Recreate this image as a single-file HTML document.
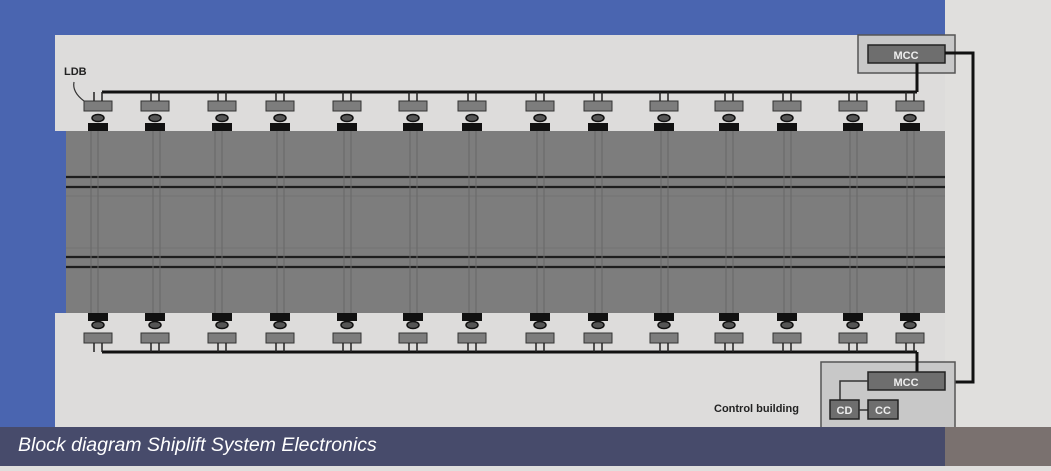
<!DOCTYPE html>
<html><head><meta charset="utf-8"><style>
html,body{margin:0;padding:0;}
body{width:1051px;height:466px;overflow:hidden;background:#e0dfdd;font-family:"Liberation Sans",sans-serif;}
</style></head><body>
<svg width="1051" height="466" viewBox="0 0 1051 466" xmlns="http://www.w3.org/2000/svg">
<defs>
 <g id="jt">
  <rect x="-14" y="101" width="28" height="10" fill="#7d7d7d" stroke="#333" stroke-width="1"/>
  <line x1="-4" y1="92" x2="-4" y2="101" stroke="#222" stroke-width="1.5"/>
  <line x1="4" y1="92" x2="4" y2="101" stroke="#222" stroke-width="1.5"/>
  <ellipse cx="0" cy="118" rx="6" ry="3.5" fill="#555" stroke="#111" stroke-width="1.5"/>
  <rect x="-10" y="123" width="20" height="8" fill="#111"/>
 </g>
 <g id="jb">
  <rect x="-10" y="313" width="20" height="8" fill="#111"/>
  <ellipse cx="0" cy="325" rx="6" ry="3.5" fill="#555" stroke="#111" stroke-width="1.5"/>
  <rect x="-14" y="333" width="28" height="10" fill="#7d7d7d" stroke="#333" stroke-width="1"/>
  <line x1="-4" y1="343" x2="-4" y2="352" stroke="#222" stroke-width="1.5"/>
  <line x1="4" y1="343" x2="4" y2="352" stroke="#222" stroke-width="1.5"/>
 </g>
 <g id="col">
  <line x1="-7" y1="131" x2="-7" y2="313" stroke="#686868" stroke-width="1"/>
  <line x1="0" y1="131" x2="0" y2="313" stroke="#686868" stroke-width="1"/>
 </g>
</defs>
<rect x="0" y="0" width="945" height="427" fill="#4a65b0"/>
<rect x="945" y="0" width="106" height="427" fill="#e0dfdd"/>
<rect x="55" y="35" width="890" height="392" fill="#dddcdb"/>
<rect x="55" y="131" width="11" height="182" fill="#4a65b0"/>
<rect x="66" y="131" width="879" height="182" fill="#7d7d7d"/>
<g stroke="#737373" stroke-width="1">
 <line x1="66" y1="196" x2="945" y2="196"/><line x1="66" y1="248" x2="945" y2="248"/>
</g>
<g stroke="#1e1e1e" stroke-width="2.2">
 <line x1="66" y1="177" x2="945" y2="177"/><line x1="66" y1="187" x2="945" y2="187"/>
 <line x1="66" y1="257" x2="945" y2="257"/><line x1="66" y1="267" x2="945" y2="267"/>
</g>
<g>
 <use href="#col" x="98"/><use href="#col" x="160"/><use href="#col" x="222"/><use href="#col" x="284"/><use href="#col" x="351"/><use href="#col" x="417"/><use href="#col" x="476"/><use href="#col" x="544"/><use href="#col" x="602"/><use href="#col" x="668"/><use href="#col" x="733"/><use href="#col" x="791"/><use href="#col" x="857"/><use href="#col" x="914"/>
</g>
<line x1="102" y1="92" x2="917" y2="92" stroke="#111" stroke-width="3"/>
<line x1="102" y1="352" x2="917" y2="352" stroke="#111" stroke-width="3"/>
<g>
 <use href="#jt" x="98"/><use href="#jt" x="155"/><use href="#jt" x="222"/><use href="#jt" x="280"/><use href="#jt" x="347"/><use href="#jt" x="413"/><use href="#jt" x="472"/><use href="#jt" x="540"/><use href="#jt" x="598"/><use href="#jt" x="664"/><use href="#jt" x="729"/><use href="#jt" x="787"/><use href="#jt" x="853"/><use href="#jt" x="910"/>
 <use href="#jb" x="98"/><use href="#jb" x="155"/><use href="#jb" x="222"/><use href="#jb" x="280"/><use href="#jb" x="347"/><use href="#jb" x="413"/><use href="#jb" x="472"/><use href="#jb" x="540"/><use href="#jb" x="598"/><use href="#jb" x="664"/><use href="#jb" x="729"/><use href="#jb" x="787"/><use href="#jb" x="853"/><use href="#jb" x="910"/>
</g>
<text x="64" y="75" font-size="11" font-weight="bold" fill="#222">LDB</text>
<path d="M74 82 Q72 92 84 101" fill="none" stroke="#333" stroke-width="1.2"/>
<rect x="858" y="35" width="97" height="38" fill="#c8c8c8" stroke="#555" stroke-width="1.5"/>
<rect x="868" y="45" width="77" height="18" fill="#6e6e6e" stroke="#222" stroke-width="1.5"/>
<text x="906" y="59" font-size="11" font-weight="bold" fill="#eee" text-anchor="middle">MCC</text>
<polyline points="917,63 917,92" fill="none" stroke="#111" stroke-width="3"/>
<polyline points="945,53 973,53 973,382 945,382" fill="none" stroke="#111" stroke-width="3"/>
<rect x="821" y="362" width="134" height="66" fill="#c8c8c8" stroke="#555" stroke-width="1.5"/>
<polyline points="917,352 917,372" fill="none" stroke="#111" stroke-width="3"/>
<rect x="868" y="372" width="77" height="18" fill="#6e6e6e" stroke="#222" stroke-width="1.5"/>
<text x="906" y="386" font-size="11" font-weight="bold" fill="#eee" text-anchor="middle">MCC</text>
<polyline points="868,381 840,381 840,400" fill="none" stroke="#333" stroke-width="1.5"/>
<rect x="830" y="400" width="29" height="19" fill="#6e6e6e" stroke="#222" stroke-width="1.5"/>
<text x="844.5" y="414" font-size="11" font-weight="bold" fill="#eee" text-anchor="middle">CD</text>
<line x1="859" y1="410" x2="868" y2="410" stroke="#333" stroke-width="1.5"/>
<rect x="868" y="400" width="30" height="19" fill="#6e6e6e" stroke="#222" stroke-width="1.5"/>
<text x="883" y="414" font-size="11" font-weight="bold" fill="#eee" text-anchor="middle">CC</text>
<text x="714" y="412" font-size="11" font-weight="bold" fill="#222">Control building</text>
<rect x="0" y="427" width="945" height="39" fill="#474b6b"/>
<rect x="945" y="427" width="106" height="39" fill="#7a716f"/>
<text x="18" y="451" font-size="19.5" font-style="italic" fill="#fff">Block diagram Shiplift System Electronics</text>
</svg>
</body></html>
